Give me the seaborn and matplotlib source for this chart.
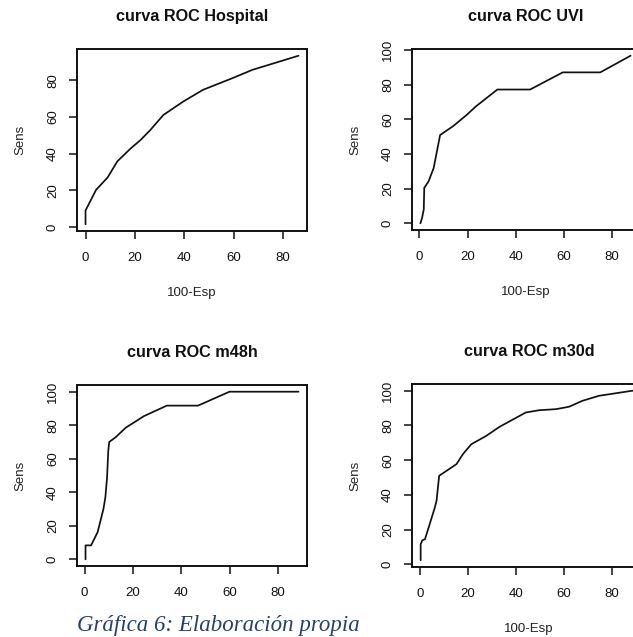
import numpy as np
import pandas as pd
import matplotlib
matplotlib.use("Agg")
import matplotlib.pyplot as plt
import seaborn as sns

# curve values (100-Esp, Sens)
hosp_x = [0, 0, 4.3, 8.9, 12.9, 18.2, 22.2, 26.2, 31.5, 39.5, 47.5, 59.5, 67.5, 86.2]
hosp_y = [1.6, 9.1, 20.4, 27.0, 35.9, 42.8, 47.4, 52.9, 61.1, 68.4, 74.8, 81.2, 85.7, 93.4]

uvi_x = [0.4, 1.1, 1.8, 2.0, 3.8, 5.9, 8.6, 14.0, 19.5, 23.5, 32.4, 46.0, 59.6, 75.2, 87.8]
uvi_y = [0, 3.2, 8.0, 20.4, 24.2, 31.8, 50.9, 56.0, 62.3, 67.4, 77.1, 77.1, 87.0, 87.0, 96.6]

m48_x = [0.4, 0.4, 2.7, 5.4, 7.8, 8.6, 9.3, 9.8, 10.2, 12.9, 17.0, 24.5, 34.0, 46.9, 59.9, 88.4]
m48_y = [0, 8.3, 8.3, 16.2, 30.0, 37.0, 48.8, 64.6, 70.0, 72.9, 78.5, 85.4, 91.7, 91.7, 100, 100]

m30_x = [0.3, 0.3, 1.0, 2.1, 3.4, 6.2, 6.9, 8.0, 15.2, 17.9, 21.4, 27.6, 33.1, 44.1, 49.7,
         56.6, 62.1, 67.6, 74.5, 88.3, 90.5]
m30_y = [2.3, 11.5, 13.8, 14.4, 20.2, 32.7, 36.5, 51.0, 57.7, 63.5, 69.2, 74.0, 79.2, 87.5, 88.8,
         89.4, 90.8, 94.2, 97.1, 100, 100]

titles = ["curva ROC Hospital", "curva ROC UVI", "curva ROC m48h", "curva ROC m30d"]
caption = "Gráfica 6: Elaboración propia"

W, H = 633, 637
# axes boxes in pixels: left, top, width, height (right column runs past the crop)
boxes = [(77, 49, 230, 182), (412, 49, 227, 181), (77, 385, 230, 181), (412, 384, 234, 183)]

sns.set_theme(style="white")
plt.rcParams['font.family'] = ['Liberation Sans', 'DejaVu Sans']

fig = plt.figure(figsize=(W / 100, H / 100), dpi=100)


def rlim(v):
    lo, hi = min(v), max(v)
    r = hi - lo
    return lo - 0.04 * r, hi + 0.04 * r


curves = [(hosp_x, hosp_y), (uvi_x, uvi_y), (m48_x, m48_y), (m30_x, m30_y)]
for i, ((xs, ys), t, b) in enumerate(zip(curves, titles, boxes)):
    l, tp, w, h = b
    ax = fig.add_axes([l / W, 1 - (tp + h) / H, w / W, h / H])
    df = pd.DataFrame({"esp": xs, "sens": ys})
    sns.lineplot(data=df, x="esp", y="sens", ax=ax, color="#111111", lw=1.25,
                 sort=False, estimator=None)
    ax.set_xlim(*rlim(xs))
    ax.set_ylim(*rlim(ys))
    ax.set_xticks([0, 20, 40, 60, 80])
    if i == 0:
        ax.set_yticks([0, 20, 40, 60, 80])
    else:
        ax.set_yticks([0, 20, 40, 60, 80, 100])
    for s in ax.spines.values():
        s.set_visible(True)
        s.set_color("#111111")
        s.set_linewidth(1.4)
    ax.tick_params(axis="both", direction="out", length=6, width=1.1, colors="#111111",
                   labelsize=9.5, bottom=True, left=True)
    ax.tick_params(axis="x", pad=9)
    ax.tick_params(axis="y", pad=7)
    for lab in ax.get_yticklabels():
        lab.set_rotation(90)
        lab.set_va("center")
    ax.set_title(t, fontsize=11.7, fontweight="bold", pad=20, color="#111111")
    ax.set_ylabel("Sens", fontsize=9.5, labelpad=15, color="#222222")
    if i != 2:
        ax.set_xlabel("100-Esp", fontsize=9.5, labelpad=17, color="#222222")
    else:
        ax.set_xlabel("")

fig.text(77 / W, 6 / H, caption, fontsize=16.5, style="italic", color="#24406E",
         family=["Liberation Serif", "DejaVu Serif"], va="baseline", ha="left")

fig.savefig("out.png", dpi=100)
